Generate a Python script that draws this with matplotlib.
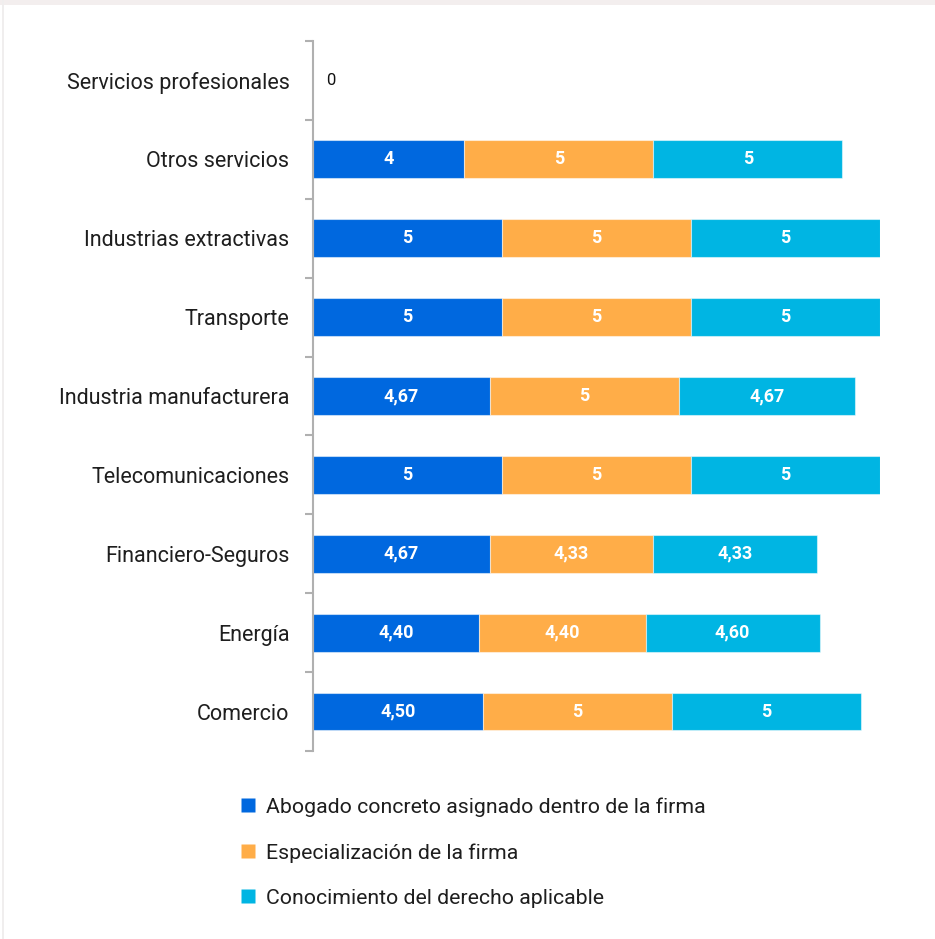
import matplotlib
matplotlib.use("Agg")
import matplotlib.pyplot as plt
from matplotlib.lines import Line2D
from matplotlib.patches import Rectangle
import numpy as np

plt.rcParams['font.family'] = ['Roboto', 'DejaVu Sans']

categories = ["Servicios profesionales", "Otros servicios", "Industrias extractivas",
              "Transporte", "Industria manufacturera", "Telecomunicaciones",
              "Financiero-Seguros", "Energía", "Comercio"]
series_names = ["Abogado concreto asignado dentro de la firma",
                "Especialización de la firma",
                "Conocimiento del derecho aplicable"]
abogado = [0, 4, 5, 5, 4.67, 5, 4.67, 4.40, 4.50]
especializacion = [0, 5, 5, 5, 5, 5, 4.33, 4.40, 5]
conocimiento = [0, 5, 5, 5, 4.67, 5, 4.33, 4.60, 5]
colors = ["#0068DF", "#FFAD48", "#00B5E3"]

def fmt(v):
    if abs(v - round(v)) < 1e-9:
        return str(int(round(v)))
    return f"{v:.2f}".replace(".", ",")

W, H = 935, 939
fig = plt.figure(figsize=(W / 100, H / 100), dpi=100)
fig.patches.append(Rectangle((0, 1 - 5 / H), 1, 5 / H, transform=fig.transFigure,
                             facecolor="#f3eeee", edgecolor="none", zorder=0))
fig.patches.append(Rectangle((2 / W, 0), 2 / W, 1, transform=fig.transFigure,
                             facecolor="#f0eeee", edgecolor="none", zorder=0))

ax = fig.add_axes([313 / W, 1 - 751 / H, (880 - 313) / W, (751 - 41) / H])
y = np.arange(len(categories))
left = np.zeros(len(categories))
for vals, col in zip([abogado, especializacion, conocimiento], colors):
    vals = np.array(vals, dtype=float)
    ax.barh(y, vals, left=left, height=0.48, color=col, edgecolor=(1, 1, 1, 0.5),
            linewidth=0.8)
    for yi, (l, v) in enumerate(zip(left, vals)):
        if v > 0:
            ax.text(l + v / 2, yi, fmt(v), ha="center", va="center", color="white",
                    fontsize=13, fontweight="bold")
    left = left + vals

for yi, tot in enumerate(left):
    if tot == 0:
        ax.text(0.35, yi, "0", ha="left", va="center", color="#111111", fontsize=12)

ax.set_xlim(0, 15)
ax.set_ylim(len(categories) - 0.5, -0.5)
ax.set_yticks(y)
ax.set_yticklabels(categories, fontsize=15.5, color="#1e1e1e")
ax.tick_params(axis="y", which="major", length=0, pad=17)
ax.set_yticks(np.arange(-0.5, len(categories)), minor=True)
ax.tick_params(axis="y", which="minor", length=6, width=1.5, color="#b0b0b0", direction="out")
ax.set_xticks([])
for s in ["top", "right", "bottom"]:
    ax.spines[s].set_visible(False)
ax.spines["left"].set_color("#b0b0b0")
ax.spines["left"].set_linewidth(1.5)

handles = [Line2D([], [], marker="s", linestyle="none", markersize=10,
                  markerfacecolor=c, markeredgecolor="none") for c in colors]
fig.legend(handles, series_names, loc="upper left",
           bbox_to_anchor=(218 / W, 1 - 778 / H), frameon=False,
           fontsize=15.3, labelspacing=1.24, handletextpad=0.35,
           handlelength=1.0, labelcolor="#1e1e1e")

fig.savefig("out.png", dpi=100, facecolor="white")
